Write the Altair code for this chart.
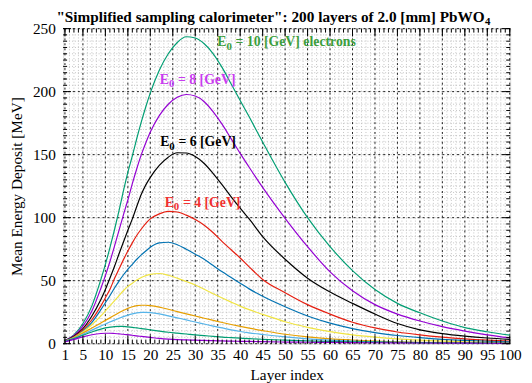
import altair as alt
import pandas as pd

# ---------------- data ----------------
layers = [1, 3, 5, 7, 9, 10, 11, 12, 13, 14, 15, 16, 17, 18, 19, 20, 22, 24, 26, 28,
          30, 32, 34, 36, 38, 40, 42, 45, 50, 55, 60, 65, 70, 75, 80, 85, 90, 95, 100]

e10 = [2.5, 7, 16, 30, 51, 63, 76, 90, 105, 121, 136, 149, 163, 176, 188, 199, 217, 230, 239, 243.5,
       242.5, 238, 230, 219, 206, 193, 180, 160, 128, 100, 77, 58, 43, 32, 24.5, 18, 12.8, 9.5, 6.8]
e8 = [2.5, 6.5, 14, 26, 44, 54, 65, 77, 89.5, 102, 114, 127, 139, 150, 159.5, 168, 181, 190, 195.5, 197.7,
      196.5, 192, 184, 174, 162.5, 151, 140, 124, 99.5, 77, 57, 42, 31, 23.5, 18, 13.5, 10, 7, 4.6]
e6 = [2.4, 6, 12, 22, 35, 43, 52, 61, 71, 80.5, 90, 99, 109, 118.5, 126, 132, 141.5, 148, 151.5, 151.3,
      148.5, 143, 135, 126, 116.5, 107.5, 99, 85, 67, 52, 41, 32, 23.5, 16, 11, 8, 6, 4.5, 3.4]
e4 = [2.3, 5.5, 11, 19, 30, 36.5, 43, 51.5, 59, 66.5, 73.5, 80, 86, 91, 95.5, 99, 103, 105, 104.5, 102,
      98.5, 94, 88, 81, 74.5, 68, 61, 51, 40.5, 31, 23.5, 17, 12.5, 9.3, 7, 5.2, 3.8, 2.8, 2.1]
s5 = [2.2, 5.2, 10, 17, 27, 32.5, 38, 44, 49.5, 54.5, 59, 63, 67, 70.5, 73.5, 76.5, 80, 80.5, 78.5, 75,
      71, 67, 62, 57, 52.5, 48, 43.5, 37.6, 29.3, 22, 16.3, 12, 8.8, 6.5, 4.8, 3.5, 2.6, 1.9, 1.4]
s6 = [2, 5, 9.5, 15, 22, 26, 30, 34, 38, 42, 45.5, 48, 50.5, 52.5, 54, 55, 55.7, 54.3, 52, 49.3,
      46.6, 43.2, 39.7, 36.3, 33, 29.8, 27, 23.3, 17.4, 13, 9.6, 7, 5.2, 3.8, 2.8, 2, 1.5, 1.1, 0.8]
s7 = [2, 4.7, 8.5, 12.5, 16.5, 18.5, 20.5, 22.5, 24.5, 26.3, 28, 29.3, 30.2, 30.5, 30.5, 30.2, 29, 27.3, 25.5, 23.7,
      22, 20.2, 18.5, 16.8, 15.2, 13.7, 12.3, 10.4, 7.5, 5.4, 3.9, 2.9, 2.1, 1.5, 1.1, 0.8, 0.6, 0.45, 0.35]
s8 = [1.9, 4.3, 7.5, 10.8, 14, 15.6, 17.2, 18.7, 20.1, 21.5, 22.7, 23.7, 24.4, 24.8, 24.9, 24.7, 23.7, 22.1, 20.5, 18.9,
      17.2, 15.6, 14, 12.5, 11, 9.7, 8.6, 7.3, 5.4, 3.9, 2.8, 2.1, 1.5, 1.1, 0.8, 0.6, 0.45, 0.35, 0.25]
s9 = [1.8, 4, 6.7, 9.3, 11.6, 12.5, 13.1, 13.6, 13.8, 13.7, 13.4, 13, 12.5, 12, 11.5, 11, 10, 9.1, 8.4, 7.7,
      7, 6.4, 5.8, 5.2, 4.8, 4.4, 4, 3.5, 2.8, 2.2, 1.8, 1.5, 1.2, 1, 0.8, 0.65, 0.55, 0.45, 0.4]
s10 = [1.5, 3.4, 5.4, 7.1, 8.1, 8.3, 8.3, 8.1, 7.8, 7.5, 7.1, 6.7, 6.2, 5.8, 5.4, 5, 4.2, 3.6, 3.2, 3,
       2.8, 2.6, 2.4, 2.2, 2, 1.9, 1.8, 1.6, 1.3, 1.15, 1, 0.85, 0.75, 0.65, 0.55, 0.47, 0.4, 0.35, 0.3]

series_names = ["E0 = 10 GeV", "E0 = 8 GeV", "E0 = 6 GeV", "E0 = 4 GeV",
                "curve 5", "curve 6", "curve 7", "curve 8", "curve 9", "curve 10"]
series_values = [e10, e8, e6, e4, s5, s6, s7, s8, s9, s10]
series_colors = ["#009e73", "#9400d3", "#000000", "#e51e10", "#0072b2",
                 "#f0e442", "#e69f00", "#56b4e9", "#009e73", "#9400d3"]

x_major = [1] + list(range(5, 101, 5))
x_minor = list(range(1, 101))
y_major = list(range(0, 251, 50))
y_minor = list(range(0, 251, 5))

label_x = [34.9, 22.1, 22.2, 23.2]
label_y = [236, 206.4, 156.8, 108.7]
label_rest = ["= 10 [GeV] electrons", "= 8 [GeV]", "= 6 [GeV]", "= 4 [GeV]"]
label_colors = ["#3c9e3c", "#c83cf0", "#000000", "#f03030"]

title_main = '"Simplified sampling calorimeter": 200 layers of 2.0 [mm] PbWO'
title_sub = "4"

# ---------------- build ----------------
W, H = 454, 320
FONT = "Liberation Serif"

rows = []
for name, vals in zip(series_names, series_values):
    for l, v in zip(layers, vals):
        rows.append({"series": name, "layer": l, "mev": v})
df = pd.DataFrame(rows)

xscale = alt.Scale(domain=[0.6, 100.1], nice=False, zero=False)
yscale = alt.Scale(domain=[0, 250], nice=False, zero=True)

xaxis = alt.Axis(values=x_major, title="Layer index", labelFont=FONT, labelFontSize=15.5,
                 titleFont=FONT, titleFontSize=15.5, titleFontWeight="normal",
                 ticks=False, grid=False, domain=False, labelPadding=4,
                 labelColor="black", titleColor="black", labelFlush=False,
                 labelOverlap=False, titleY=31, titleBaseline="middle")
yaxis = alt.Axis(values=y_major, title="Mean Energy Deposit [MeV]", labelFont=FONT,
                 labelFontSize=15.5, titleFont=FONT, titleFontSize=15.5,
                 titleFontWeight="normal", ticks=False, grid=False, domain=False,
                 labelPadding=8, labelColor="black", titleColor="black",
                 titleX=-47, titleY=160, titleBaseline="middle", labelFlush=False)

X = lambda f: alt.X(f, scale=xscale, axis=xaxis)
Y = lambda f: alt.Y(f, scale=yscale, axis=yaxis)

dxm = pd.DataFrame({"x": x_minor})
dxM = pd.DataFrame({"x": x_major})
dym = pd.DataFrame({"y": y_minor})
dyM = pd.DataFrame({"y": y_major})

grid_xm = alt.Chart(dxm).mark_rule(color="#b5b5b5", strokeWidth=0.8, strokeDash=[1, 2]).encode(
    x=X("x:Q"), y=alt.value(0), y2=alt.value(H))
grid_ym = alt.Chart(dym).mark_rule(color="#b5b5b5", strokeWidth=0.8, strokeDash=[1, 2]).encode(
    y=Y("y:Q"), x=alt.value(0), x2=alt.value(W))
grid_xM = alt.Chart(dxM).mark_rule(color="#222", strokeWidth=1, strokeDash=[2, 3]).encode(
    x=X("x:Q"), y=alt.value(0), y2=alt.value(H))
grid_yM = alt.Chart(dyM).mark_rule(color="#222", strokeWidth=1, strokeDash=[2, 3]).encode(
    y=Y("y:Q"), x=alt.value(0), x2=alt.value(W))

lines = alt.Chart(df).mark_line(interpolate="monotone", strokeWidth=1.2).encode(
    x=X("layer:Q"), y=Y("mev:Q"),
    color=alt.Color("series:N", scale=alt.Scale(domain=series_names, range=series_colors), legend=None),
    order="layer:Q")

tk = dict(color="black", strokeWidth=1)
ticks = [
    alt.Chart(dxm).mark_rule(**tk).encode(x=X("x:Q"), y=alt.value(H), y2=alt.value(H - 4)),
    alt.Chart(dxM).mark_rule(**tk).encode(x=X("x:Q"), y=alt.value(H), y2=alt.value(H - 8)),
    alt.Chart(dxm).mark_rule(**tk).encode(x=X("x:Q"), y=alt.value(0), y2=alt.value(4)),
    alt.Chart(dxM).mark_rule(**tk).encode(x=X("x:Q"), y=alt.value(0), y2=alt.value(8)),
    alt.Chart(dym).mark_rule(**tk).encode(y=Y("y:Q"), x=alt.value(0), x2=alt.value(4)),
    alt.Chart(dyM).mark_rule(**tk).encode(y=Y("y:Q"), x=alt.value(0), x2=alt.value(8)),
    alt.Chart(dym).mark_rule(**tk).encode(y=Y("y:Q"), x=alt.value(W), x2=alt.value(W - 4)),
    alt.Chart(dyM).mark_rule(**tk).encode(y=Y("y:Q"), x=alt.value(W), x2=alt.value(W - 8)),
]

ldf = pd.DataFrame({"lx": label_x, "ly": label_y, "rest": label_rest, "tc": label_colors})
tbase = alt.Chart(ldf)
lab_e = tbase.mark_text(font=FONT, fontSize=14, fontWeight="bold", align="left",
                        baseline="alphabetic", text="E").encode(
    x=X("lx:Q"), y=Y("ly:Q"), color=alt.Color("tc:N", scale=None))
lab_0 = tbase.mark_text(font=FONT, fontSize=11, fontWeight="bold", align="left",
                        baseline="alphabetic", text="0", dx=9.3, dy=3.5).encode(
    x=X("lx:Q"), y=Y("ly:Q"), color=alt.Color("tc:N", scale=None))
lab_r = tbase.mark_text(font=FONT, fontSize=14, fontWeight="bold", align="left",
                        baseline="alphabetic", dx=18.5).encode(
    x=X("lx:Q"), y=Y("ly:Q"), text="rest:N", color=alt.Color("tc:N", scale=None))

tdf = pd.DataFrame({"t": [title_main], "s": [title_sub]})
title_a = alt.Chart(tdf).mark_text(font=FONT, fontSize=15.5, fontWeight="bold", align="right",
                                   baseline="alphabetic", color="black").encode(
    text="t:N", x=alt.value(428), y=alt.value(-7))
title_b = alt.Chart(tdf).mark_text(font=FONT, fontSize=11, fontWeight="bold", align="left",
                                   baseline="alphabetic", color="black", dy=3.5).encode(
    text="s:N", x=alt.value(428.5), y=alt.value(-7))

chart = alt.layer(grid_xm, grid_ym, grid_xM, grid_yM, lines, *ticks, lab_e, lab_0, lab_r,
                  title_a, title_b).properties(
    width=W, height=H,
    autosize=alt.AutoSizeParams(type="none"),
    padding={"left": 56, "top": 18, "right": 14, "bottom": 37},
).configure_view(stroke="black", strokeWidth=1.5).configure(background="white")

chart.save("out.html", embed_options={"renderer": "svg", "actions": False})
